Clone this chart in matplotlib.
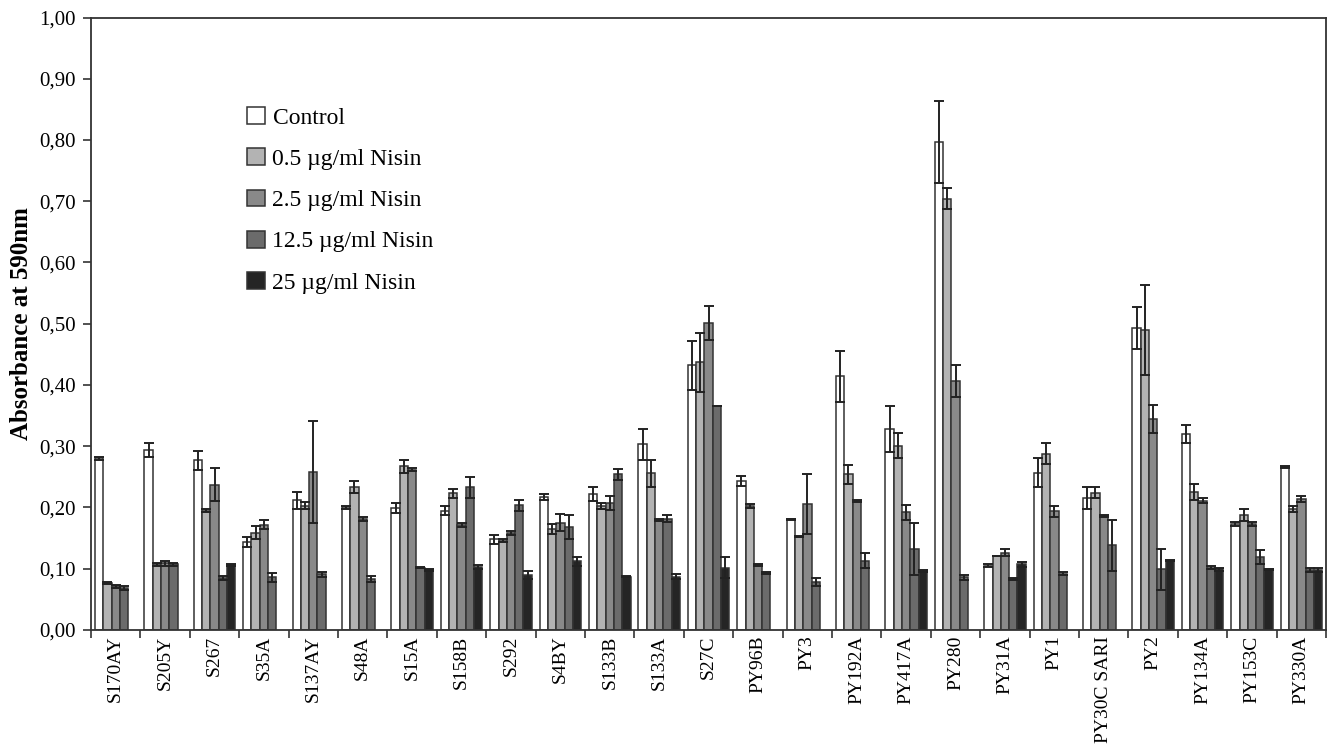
import numpy as np
import matplotlib
matplotlib.use("Agg")
import matplotlib.pyplot as plt
from matplotlib.patches import Patch
from matplotlib.ticker import FuncFormatter, MultipleLocator

plt.rcParams['font.family'] = ['Liberation Serif', 'DejaVu Serif']

nan = np.nan

strains = ["S170AY", "S205Y", "S267", "S35A", "S137AY", "S48A", "S15A", "S158B",
           "S292", "S4BY", "S133B", "S133A", "S27C", "PY96B", "PY3", "PY192A",
           "PY417A", "PY280", "PY31A", "PY1", "PY30C SARI", "PY2", "PY134A",
           "PY153C", "PY330A"]

series_names = ["Control", "0.5 µg/ml Nisin", "2.5 µg/ml Nisin",
                "12.5 µg/ml Nisin", "25 µg/ml Nisin"]

control = [0.280, 0.294, 0.277, 0.143, 0.212, 0.200, 0.199, 0.195, 0.148, 0.217,
           0.222, 0.303, 0.432, 0.243, 0.181, 0.414, 0.328, 0.796, 0.105, 0.257,
           0.215, 0.493, 0.320, 0.173, 0.266]
control_err = [0.003, 0.011, 0.015, 0.008, 0.014, 0.002, 0.008, 0.008, 0.007, 0.005,
               0.011, 0.025, 0.040, 0.008, 0.001, 0.041, 0.037, 0.067, 0.002, 0.024,
               0.018, 0.034, 0.015, 0.004, 0.002]

nisin_05 = [0.077, 0.107, 0.195, 0.159, 0.203, 0.233, 0.267, 0.223, 0.146, 0.165,
            0.202, 0.256, 0.437, 0.202, 0.152, 0.254, 0.301, 0.704, 0.120, 0.288,
            0.224, 0.490, 0.226, 0.188, 0.198]
nisin_05_err = [0.002, 0.002, 0.003, 0.010, 0.006, 0.010, 0.010, 0.007, 0.002, 0.008,
                0.005, 0.022, 0.048, 0.003, 0.001, 0.015, 0.021, 0.017, 0.000, 0.017,
                0.009, 0.074, 0.013, 0.010, 0.005]

nisin_25 = [0.071, 0.109, 0.237, 0.172, 0.258, 0.181, 0.262, 0.171, 0.158, 0.175,
            0.207, 0.180, 0.501, 0.106, 0.205, 0.211, 0.192, 0.406, 0.126, 0.194,
            0.186, 0.344, 0.211, 0.173, 0.214]
nisin_25_err = [0.002, 0.004, 0.027, 0.007, 0.084, 0.003, 0.002, 0.003, 0.003, 0.014,
                0.011, 0.002, 0.028, 0.002, 0.049, 0.002, 0.012, 0.026, 0.006, 0.009,
                0.002, 0.023, 0.004, 0.003, 0.005]

nisin_125 = [0.068, 0.107, 0.085, 0.086, 0.091, 0.083, 0.102, 0.233, 0.204, 0.168,
             0.254, 0.182, 0.365, 0.093, 0.078, 0.113, 0.132, 0.086, 0.083, 0.092,
             0.138, 0.099, 0.102, 0.119, 0.098]
nisin_125_err = [0.003, 0.003, 0.003, 0.007, 0.004, 0.005, 0.001, 0.017, 0.009, 0.019,
                 0.009, 0.006, 0.000, 0.002, 0.007, 0.012, 0.042, 0.004, 0.002, 0.002,
                 0.041, 0.033, 0.002, 0.011, 0.003]

nisin_250 = [nan, nan, 0.106, nan, nan, nan, 0.098, 0.103, 0.090, 0.112,
             0.087, 0.087, 0.102, nan, nan, nan, 0.096, nan, 0.107, nan,
             nan, 0.113, 0.099, 0.099, 0.098]
nisin_250_err = [0.0, 0.0, 0.001, 0.0, 0.0, 0.0, 0.002, 0.003, 0.007, 0.007,
                 0.001, 0.004, 0.017, 0.0, 0.0, 0.0, 0.002, 0.0, 0.004, 0.0,
                 0.0, 0.001, 0.002, 0.001, 0.003]

values = [control, nisin_05, nisin_25, nisin_125, nisin_250]
errors = [control_err, nisin_05_err, nisin_25_err, nisin_125_err, nisin_250_err]
colors = ["#ffffff", "#b3b3b3", "#898989", "#6b6b6b", "#252525"]

fig = plt.figure(figsize=(13.33, 7.45), dpi=100)
ax = fig.add_axes([0.0683, 0.1544, 0.9265, 0.8221])

x = np.arange(len(strains))
w = 0.168
for k in range(5):
    ax.bar(x + (k - 2) * w, values[k], w, yerr=errors[k], color=colors[k],
           edgecolor="#333333", linewidth=1.1,
           error_kw=dict(ecolor="#222222", elinewidth=1.4, capsize=3.3, capthick=1.4))

ax.set_xlim(-0.5, len(strains) - 0.5)
ax.set_ylim(0, 1.0)
ax.yaxis.set_major_locator(MultipleLocator(0.1))
ax.yaxis.set_major_formatter(FuncFormatter(lambda v, p: f"{v:.2f}".replace(".", ",")))

ax.set_xticks(x)
ax.set_xticklabels(strains, rotation=90, fontsize=14)
ax.set_xticks(np.arange(len(strains) + 1) - 0.5, minor=True)
ax.tick_params(axis="x", which="major", length=0, pad=4)
ax.tick_params(axis="x", which="minor", length=6, width=1.2, color="#333333")
ax.tick_params(axis="y", length=6, width=1.2, color="#333333", labelsize=15, pad=5)

for s in ax.spines.values():
    s.set_color("#333333")
    s.set_linewidth(1.3)

ax.set_ylabel("Absorbance at 590nm", fontsize=18, fontweight="bold")
ax.yaxis.set_label_coords(-0.047, 0.5)

handles = [Patch(facecolor=c, edgecolor="#333333", linewidth=1.1) for c in colors]
ax.legend(handles, series_names, loc="upper left", frameon=False, fontsize=17,
          bbox_to_anchor=(247 / 1333, 1 - 107 / 745), bbox_transform=fig.transFigure,
          borderpad=0, borderaxespad=0, handlelength=0.78, handleheight=0.72,
          handletextpad=0.3, labelspacing=0.83)

fig.savefig("out.png", dpi=100)
